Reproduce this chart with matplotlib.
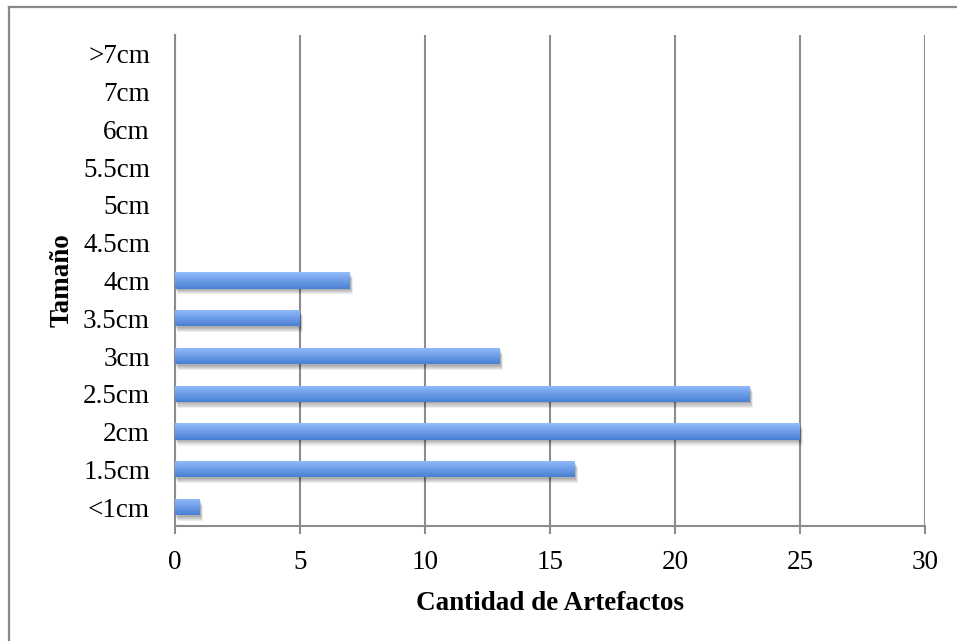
import matplotlib
matplotlib.use("Agg")
import matplotlib.pyplot as plt
import matplotlib.patheffects as pe
import numpy as np
from matplotlib.colors import LinearSegmentedColormap

categories = ["<1cm", "1.5cm", "2cm", "2.5cm", "3cm", "3.5cm", "4cm",
              "4.5cm", "5cm", "5.5cm", "6cm", "7cm", ">7cm"]
counts = [1, 16, 25, 23, 13, 5, 7, 0, 0, 0, 0, 0, 0]
x_ticks = [0, 5, 10, 15, 20, 25, 30]

serif = ["Liberation Serif", "DejaVu Serif"]
grid_col = "#8c8c8c"

fig = plt.figure(figsize=(9.57, 6.41), dpi=100)
ax = fig.add_axes([175 / 957, 1 - 526 / 641, 750 / 957, 491 / 641])

# chart frame lines
fig.add_artist(plt.Line2D([8.5 / 957, 8.5 / 957], [0, 1 - 6.5 / 641],
                          transform=fig.transFigure, color="#888888", lw=1.6))
fig.add_artist(plt.Line2D([8.5 / 957, 1], [1 - 6.5 / 641, 1 - 6.5 / 641],
                          transform=fig.transFigure, color="#888888", lw=1.6))

y = np.arange(len(categories))
bar_h = 0.43
grad = LinearSegmentedColormap.from_list("barfill", ["#4a80d2", "#6e9de8", "#94bdfb"])
gradient = np.linspace(0, 1, 64).reshape(-1, 1)

shadow = [pe.SimplePatchShadow(offset=(0.6 + 0.3 * k, -1.0 - 0.8 * k),
                               shadow_rgbFace="#000000", alpha=0.07)
          for k in range(5)]

bars = ax.barh(y, counts, height=bar_h, color="none", zorder=3)
for rect, val in zip(bars, counts):
    if val <= 0:
        continue
    sh = plt.Rectangle(rect.get_xy(), rect.get_width(), rect.get_height(),
                       facecolor="white", edgecolor="none", zorder=2,
                       path_effects=shadow + [pe.Normal()])
    ax.add_patch(sh)
    x0, y0 = rect.get_xy()
    im = ax.imshow(gradient, cmap=grad, aspect="auto", origin="lower",
                   extent=[x0, x0 + rect.get_width(), y0, y0 + rect.get_height()],
                   zorder=3)
    im.set_clip_path(rect)

ax.set_xlim(0, 30)
ax.set_ylim(-0.5, len(categories) - 0.5)
ax.set_xticks(x_ticks)
ax.set_yticks(y)
ax.set_yticklabels(categories)
ax.xaxis.grid(True, color=grid_col, lw=1.5, zorder=1)
ax.set_axisbelow(True)

for side in ["top", "right"]:
    ax.spines[side].set_visible(False)
for side in ["left", "bottom"]:
    ax.spines[side].set_color(grid_col)
    ax.spines[side].set_linewidth(1.5)

ax.tick_params(axis="x", direction="out", length=6, width=1.5, color=grid_col,
               pad=11, labelsize=19.5)
ax.tick_params(axis="y", length=0, pad=18, labelsize=19.5)
for lab in ax.get_xticklabels() + ax.get_yticklabels():
    lab.set_fontfamily(serif)

ax.set_xlabel("Cantidad de Artefactos", fontsize=19.5, fontweight="bold",
              family=serif, labelpad=12)
ax.set_ylabel("Tamaño", fontsize=19.5, fontweight="bold", family=serif, labelpad=6)

fig.savefig("out.png", dpi=100)
